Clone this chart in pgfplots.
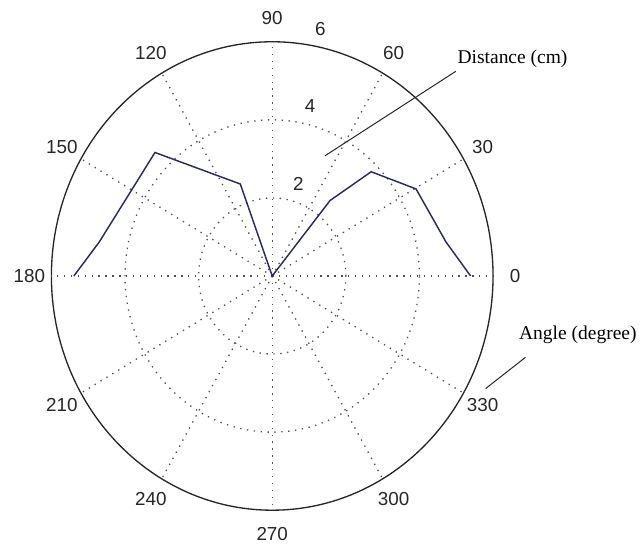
\documentclass[border=0pt]{standalone}
\usepackage{fontspec}
\setmainfont{Liberation Sans}
\newfontfamily\annotfont{Liberation Serif}
\usepackage{pgfplots}
\pgfplotsset{compat=1.18}

\definecolor{trace}{RGB}{42,42,96}
\definecolor{gridc}{RGB}{80,80,80}

\tikzset{
  griddot/.style={gridc, line width=1pt, dash pattern=on 1pt off 4.2pt},
}
\newcommand\ticklab{\fontsize{14.2}{16}\selectfont}
\newcommand\annlab{\annotfont\fontsize{14.7}{17}\selectfont}

\begin{document}
\begin{tikzpicture}
\begin{axis}[
  scale only axis,
  width=480.75pt, height=412.5pt,
  xmin=-7.397, xmax=9.927,
  ymin=-6.943, ymax=7.070,
  axis lines=none,
  clip=false,
]
% keep the page the size of the axis box
\path (rel axis cs:0,0) rectangle (rel axis cs:1,1);

% range rings
\draw[griddot] (axis cs:0,0) ellipse [x radius=2, y radius=2];
\draw[griddot] (axis cs:0,0) ellipse [x radius=4, y radius=4];
\draw[black!85, line width=1pt] (axis cs:0,0) ellipse [x radius=6, y radius=6];

% spokes and angle labels
\pgfplotsinvokeforeach{0,30,60,90,120,150,180,210,240,270,300,330}{
  \draw[griddot] (axis cs:0,0) -- (axis cs:{6*cos(#1)},{6*sin(#1)});
  \node[font=\ticklab, text=black!85] at (axis cs:{6.6*cos(#1)},{6.6*sin(#1)}) {#1};
}

% radial labels
\node[font=\ticklab, text=black!85] at (axis cs:0.711,2.357) {2};
\node[font=\ticklab, text=black!85] at (axis cs:1.027,4.35) {4};
\node[font=\ticklab, text=black!85] at (axis cs:1.305,6.33) {6};

% measured distance (cm) against angle (degree)
\addplot[trace, line width=1.1pt, data cs=polar, mark=none] coordinates {
  (0,5.39) (10.5,4.80) (29.7,4.50) (44.8,3.79) (50.9,2.49) (90,0)
  (110.2,2.51) (135.2,4.49) (169.5,4.78) (180,5.39)
};

% annotations
\draw[black!85, line width=0.75pt] (axis cs:4.989,5.243) -- (axis cs:1.432,3.078);
\node[font=\annlab] at (axis cs:6.53,5.56) {Distance (cm)};
\draw[black!85, line width=0.75pt] (axis cs:6.881,-2.084) -- (axis cs:5.8,-2.884);
\node[font=\annlab] at (axis cs:8.305,-1.508) {Angle (degree)};
\end{axis}
\end{tikzpicture}
\end{document}
